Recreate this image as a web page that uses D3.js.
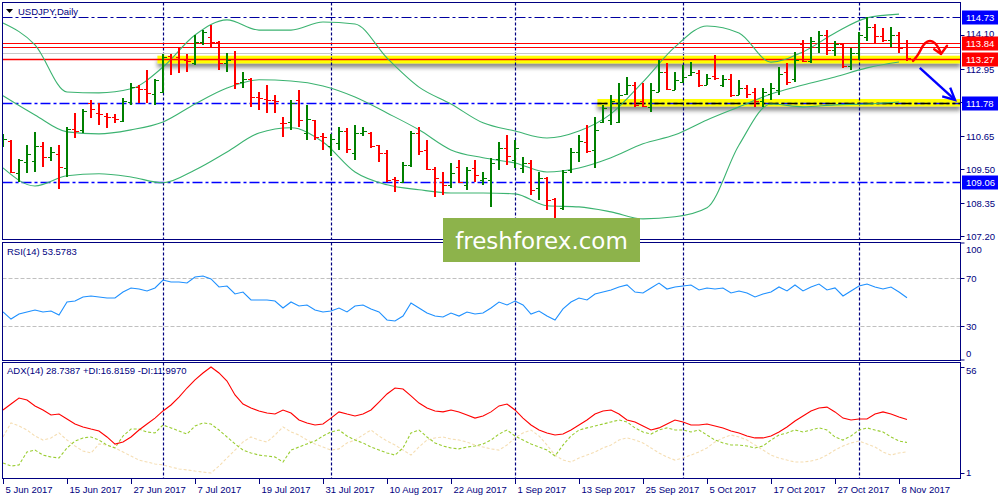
<!DOCTYPE html>
<html><head><meta charset="utf-8">
<script src="https://cdn.jsdelivr.net/npm/d3@7/dist/d3.min.js"></script>
<style>
html,body{margin:0;padding:0;background:#fff;}
svg{display:block;}
text{font-family:"Liberation Sans",Arial,sans-serif;font-size:9.5px;fill:#000080;}
</style></head><body>
<svg id="chart" width="1000" height="500"></svg>
<script>
// ---------------- DATA ----------------
const symbolTitle = "USDJPY,Daily";
const dateLabels = ["5 Jun 2017","15 Jun 2017","27 Jun 2017","7 Jul 2017","19 Jul 2017","31 Jul 2017","10 Aug 2017","22 Aug 2017","1 Sep 2017","13 Sep 2017","25 Sep 2017","5 Oct 2017","17 Oct 2017","27 Oct 2017","8 Nov 2017"];
const dateLabelBars = [0,8,16,24,32,40,48,56,64,72,80,88,96,104,112];
const monthStartBars = [20,41,64,85,107];

const open = [110.40,110.47,109.37,109.75,109.78,110.30,109.92,110.02,109.54,110.88,
110.85,111.78,111.43,111.33,111.29,111.16,111.81,112.32,112.25,112.08,
112.15,113.40,113.35,113.25,113.15,113.87,114.04,113.87,113.15,113.28,
112.50,112.60,111.98,111.91,111.88,111.09,111.12,111.88,110.74,111.19,
110.64,110.30,110.40,110.80,110.06,110.75,110.75,110.33,110.06,109.16,
109.06,109.64,110.74,110.16,109.50,109.06,108.96,109.57,108.96,109.54,
109.13,109.13,109.85,110.23,109.82,109.54,109.71,108.86,109.20,108.48,
108.17,109.47,110.09,110.43,110.16,111.12,111.19,111.12,112.08,112.39,
111.84,111.64,112.15,112.84,112.22,112.50,112.72,112.80,112.39,112.70,
112.39,112.60,112.05,112.29,112.15,111.84,112.08,112.22,112.84,112.60,
113.80,113.20,113.70,114.11,113.60,113.80,113.05,113.50,114.04,114.40,
114.08,113.95,114.10,113.84];
const high = [110.71,110.50,109.85,110.33,110.78,110.43,110.26,110.33,110.95,111.43,
111.57,111.88,111.78,111.43,111.40,111.95,112.46,112.39,112.91,112.60,
113.47,113.45,113.70,113.47,114.11,114.28,114.46,113.91,113.50,113.56,
112.84,112.63,112.15,112.39,112.05,111.29,111.88,112.22,111.71,111.19,
110.74,110.70,110.95,110.90,111.02,110.95,110.78,110.33,110.16,109.23,
109.75,110.81,110.95,110.50,109.57,109.40,109.71,109.82,109.57,109.82,
109.40,109.88,110.43,110.68,110.50,109.92,109.82,109.40,109.23,108.51,
109.47,110.23,110.68,111.02,111.30,111.71,112.05,112.46,112.67,112.50,
112.46,112.46,113.25,113.15,112.84,113.08,113.18,112.91,112.77,113.42,
112.74,112.77,112.57,112.39,112.29,112.29,112.46,113.01,113.15,113.53,
113.94,114.04,114.25,114.30,113.90,113.84,113.65,114.20,114.73,114.50,
114.35,114.40,114.20,113.94];
const low = [110.26,109.35,109.06,109.37,109.40,109.57,109.78,108.82,109.23,110.57,
110.74,111.26,111.02,110.92,111.09,111.12,111.71,111.78,111.78,111.71,
112.12,112.74,112.80,112.84,113.08,113.77,113.70,112.91,112.84,112.25,
112.29,111.64,111.53,111.43,111.43,110.60,110.85,110.95,110.50,110.50,
110.16,109.95,110.16,110.06,109.82,110.64,110.23,109.75,109.06,108.72,
109.03,109.57,109.99,109.47,108.55,108.61,108.86,109.03,108.79,109.06,
108.96,108.20,109.47,109.64,109.54,109.37,108.61,108.44,108.10,107.75,
108.10,109.37,109.75,110.06,109.54,111.09,111.02,111.09,112.05,111.64,
111.64,111.47,112.15,112.22,112.22,112.46,112.70,112.32,112.39,112.57,
112.32,111.98,112.05,111.95,111.64,111.64,111.88,112.05,112.39,112.50,
113.18,113.15,113.49,113.42,113.40,112.98,112.91,113.25,113.90,113.80,
113.87,113.70,113.50,113.22];
const close = [110.55,109.40,109.82,110.03,110.30,109.92,110.09,109.57,110.88,110.81,
111.50,111.57,111.40,111.29,111.22,111.85,112.32,112.25,112.12,112.56,
113.35,113.30,113.30,113.22,113.87,114.20,113.87,113.15,113.25,112.46,
112.60,111.98,111.95,111.88,111.84,111.07,111.78,111.19,111.22,110.61,
110.60,110.55,110.80,110.20,110.74,110.80,110.30,110.06,109.13,109.13,
109.64,110.74,110.12,109.50,109.20,108.96,109.37,109.06,109.47,109.30,
109.20,109.71,110.23,109.95,110.23,109.71,108.79,109.20,108.44,107.82,
109.40,110.09,110.47,110.12,110.85,111.60,111.84,112.05,112.39,111.71,
111.67,112.22,112.84,112.25,112.56,112.67,112.84,112.39,112.63,112.63,
112.60,112.05,112.29,112.08,111.84,112.15,112.29,112.77,112.50,113.25,
113.20,113.90,114.11,113.60,113.80,113.05,113.50,114.10,114.40,114.08,
113.95,114.10,113.65,113.32];

// Bollinger bands, read every 4th bar
const bbBars = [0,4,8,12,16,20,24,28,32,36,40,44,48,52,56,60,64,68,72,76,80,84,88,92,96,100,104,108,112];
const bbUpper = [114.52,113.77,112.15,112.12,112.26,113.01,114.11,114.63,114.28,114.28,114.56,114.49,113.32,112.32,111.74,111.09,110.81,110.57,110.81,111.40,112.50,113.70,114.42,114.18,113.18,113.53,114.18,114.70,114.83];
const bbMiddle = [112.02,111.36,110.78,110.71,110.85,111.12,111.74,112.29,112.57,112.53,112.36,111.98,111.43,110.85,110.16,109.89,109.71,109.40,109.54,109.89,110.37,110.68,111.19,111.64,112.08,112.39,112.67,112.98,113.18];
const bbLower = [109.54,108.92,109.27,109.34,109.23,109.03,109.47,110.09,110.74,110.92,110.43,109.40,108.96,108.79,108.68,108.68,108.65,108.24,108.20,108.03,107.79,107.86,108.17,110.33,111.74,111.64,111.71,111.74,111.81];

const rsi = [41.7,35.8,40,41.7,43.3,41.7,42.5,39.2,50,50.8,
54.2,55,54.2,53.3,53.3,58.3,61.7,60.8,59.2,61.7,
68.3,66.7,66.7,65.8,70.8,71.7,69.2,62.5,63.3,56.7,
58.3,51.7,51.7,51.7,50.8,45,50,46.7,47.5,43.3,
41.7,42.5,45,41.7,46.7,47.5,44.2,41.7,35,34.2,
38.3,49.2,45,40.8,38.3,37.5,40.8,38.3,41.7,40,
40.8,45,50,47.5,50.8,47.5,40,42.5,38.3,35,
44.2,50,53.3,51.7,56.7,58.3,60,62.5,64.2,58.3,
57.5,61.7,65.8,60.8,62.5,63.3,64.2,60,61.7,60.8,
61.7,57.5,59.2,57.5,54.2,56.7,58.3,62.5,59.2,64.2,
59.2,62.5,65,60,61.7,55,59.2,63.3,65,62.5,
60.8,62.5,58.3,53.5783];
const adx = [33.7,36.8,39.9,38.9,35.8,33.7,31.1,31.6,29.0,26.4,
24.9,23.8,22.8,19.7,16.0,17.1,19.7,23.3,26.4,29.5,
33.2,36.3,40.4,45.1,49.3,52.9,56.0,52.9,48.7,41.5,
36.8,34.7,33.2,32.1,31.6,33.7,32.1,28.5,26.9,25.9,
26.4,29.5,32.7,31.6,30.6,31.6,33.7,37.8,42.0,45.1,
44.6,41.0,37.3,34.7,33.2,32.7,33.7,32.7,31.1,29.5,
30.6,32.7,35.8,36.8,33.7,29.5,25.9,23.3,21.8,20.7,
21.2,23.3,25.9,28.5,31.6,33.2,33.7,31.6,28.5,27.5,
25.4,23.3,24.4,26.4,28.5,27.5,25.9,25.9,26.4,25.4,
24.4,22.8,21.8,20.2,19.2,19.2,20.2,22.3,24.9,28.0,
30.6,33.2,34.7,35.2,32.7,29.5,28.5,29.0,29.0,31.6,
32.7,31.6,30.1,28.7387];
const plusDI = [6.2,4.6,5.2,11.9,12.9,10.3,9.3,8.8,14.0,17.6,
19.2,19.7,18.1,15.5,14.0,20.2,23.8,23.8,22.3,21.8,
25.9,24.4,22.8,21.2,25.4,27.0,26.4,23.3,19.7,16.1,
12.9,11.4,10.3,9.8,9.3,6.7,12.9,14.5,16.1,17.6,
20.2,22.3,23.3,20.2,18.1,16.6,14.5,12.9,11.4,10.3,
14.0,21.8,23.3,19.7,16.6,15.0,14.0,13.5,14.5,15.0,
16.1,18.1,21.2,23.3,20.2,18.1,16.1,14.5,12.9,9.8,
15.5,20.2,23.3,24.4,25.4,26.4,27.5,28.5,27.5,24.4,
22.3,21.2,23.3,24.4,23.3,23.3,22.3,23.3,20.7,18.1,
16.6,15.5,15.5,15.0,14.0,15.0,18.1,20.7,21.8,23.3,
22.3,23.3,24.4,23.3,19.7,18.1,20.2,23.3,24.4,23.3,
22.3,19.7,17.6,16.8159];
const minusDI = [19.7,27.0,25.4,23.3,20.2,18.1,19.2,21.8,18.1,15.0,
12.4,11.4,16.1,15.5,14.0,11.9,9.8,7.7,6.7,5.7,
5.2,4.1,3.1,2.6,2.0,1.5,1.0,4.6,8.8,12.9,
17.1,19.7,18.1,17.1,20.7,24.9,22.3,20.7,18.1,16.1,
14.5,12.9,13.5,16.6,18.1,20.7,23.3,20.2,17.6,15.5,
12.9,10.3,14.5,18.1,19.2,19.7,18.6,18.1,17.1,15.5,
14.5,13.5,12.9,15.5,19.2,21.8,23.3,20.2,15.5,10.3,
7.7,6.7,8.8,10.3,11.9,14.0,15.5,18.1,19.2,18.1,
16.6,14.0,11.4,9.3,7.7,8.8,10.3,11.9,14.0,17.1,
19.2,20.7,19.7,18.1,15.5,12.9,10.3,8.8,7.7,6.7,
6.7,7.2,8.3,10.3,12.9,15.0,16.6,17.6,16.1,14.5,
11.9,10.3,11.4,11.9970];

const priceTicks = [114.10,112.95,111.80,110.65,109.50,108.35,107.20];
const priceTickLabels = ["114.10","112.95","111.80","110.65","109.50","108.35","107.20"];
const rsiTicks = [100,70,30,0];
const rsiLevels = [70,30];
const adxTicks = [56,1];
const blueLevels = [114.73,111.78,109.06];
const blueLevelLabels = ["114.73","111.78","109.06"];
const redLevels = [113.84,113.71,113.27];
const redBoxLevels = [113.84,113.27];
const redBoxLabels = ["113.84","113.27"];
const bidLevel = 113.49;
const zoneStartBar = [19.3,74.3];
const zoneLow = [113.13,111.65];
const zoneHigh = [113.40,111.91];
const zoneLine = [113.27,111.78];
// hand-drawn annotations (bar index, price)
const redArrowBar = [113.75,114.4,115.0,115.5,116.25,116.75,117.25];
const redArrowPrice = [113.22,113.42,113.77,113.91,113.91,113.77,113.49];
const redHeadBar = [116.4,117.25,118.0];
const redHeadPrice = [113.62,113.46,113.74];
const blueArrowBar = [114.6,119.0];
const blueArrowPrice = [112.98,111.88];
const blueHeadBar = [117.4,119.0,118.4];
const blueHeadPrice = [112.00,111.88,112.30];

// ---------------- LAYOUT ----------------
const NAVY = "#000080";
const XL = 2.5, XR = 960.5;
const panels = {main:[2.5,239.5], rsi:[242.5,360.5], adx:[362.5,478.5]};
const svg = d3.select("#chart");
const x = d3.scaleLinear().domain([0,119]).range([3,955]);
const y = d3.scaleLinear().domain([107.20,114.73]).range([236,17]);
const yR = d3.scaleLinear().domain([0,100]).range([362,242]);
const yA = d3.scaleLinear().domain([1,56]).range([473,367]);

const defs = svg.append("defs");
Object.entries(panels).forEach(([k,[t,b]])=>{
  defs.append("clipPath").attr("id","clip-"+k).append("rect")
    .attr("x",XL).attr("y",t).attr("width",XR-XL).attr("height",b-t);
});
const flt = defs.append("filter").attr("id","shadow").attr("x","-2%").attr("y","-60%").attr("width","104%").attr("height","300%");
flt.append("feDropShadow").attr("dx",0).attr("dy",4).attr("stdDeviation",2.2).attr("flood-color","#666").attr("flood-opacity",0.75);

svg.append("rect").attr("width",1000).attr("height",500).attr("fill","#fff");

const gMain = svg.append("g").attr("clip-path","url(#clip-main)");
const gRsi = svg.append("g").attr("clip-path","url(#clip-rsi)");
const gAdx = svg.append("g").attr("clip-path","url(#clip-adx)");

// yellow zones
gMain.selectAll("rect.zone").data(zoneStartBar).join("rect").attr("class","zone")
  .attr("x",d=>x(d)).attr("width",(d)=>XR-x(d))
  .attr("y",(d,i)=>y(zoneHigh[i])).attr("height",(d,i)=>y(zoneLow[i])-y(zoneHigh[i]))
  .attr("fill","#ffff00").attr("filter","url(#shadow)");

// month separators
[[gMain,"main"],[gRsi,"rsi"],[gAdx,"adx"]].forEach(([g,k])=>{
  g.selectAll("line.month").data(monthStartBars).join("line").attr("class","month")
    .attr("x1",d=>x(d)+0.5).attr("x2",d=>x(d)+0.5).attr("y1",panels[k][0]).attr("y2",panels[k][1])
    .attr("stroke",NAVY).attr("stroke-width",1.2).attr("stroke-dasharray","3,2");
});

// horizontal levels
const hline = (g,v,color,dash,w,x1)=>g.append("line")
  .attr("x1",x1===undefined?XL:x1).attr("x2",XR).attr("y1",Math.round(y(v))+0.5).attr("y2",Math.round(y(v))+0.5)
  .attr("stroke",color).attr("stroke-width",w).attr("stroke-dasharray",dash);
hline(gMain,bidLevel,"#c8c8c8",null,1);
redLevels.forEach(v=>hline(gMain,v,"#ff0000",null,v===zoneLine[0]?1.6:1.2));
hline(gMain,blueLevels[0],"#0000a0","10,3,3,3",1.2);
hline(gMain,blueLevels[1],"#0000ff","10,3,3,3",1.4);
hline(gMain,blueLevels[2],"#0000ff","10,3,3,3",1.4);
hline(gMain,zoneLine[1],"#000000","10,3,3,3",1.4,x(zoneStartBar[1]));

// Bollinger bands
const bbLine = d3.line().x((d,i)=>x(bbBars[i])).y(d=>y(d)).curve(d3.curveMonotoneX);
[bbUpper,bbMiddle,bbLower].forEach(s=>{
  gMain.append("path").attr("d",bbLine(s)).attr("fill","none").attr("stroke","#3cb371").attr("stroke-width",1.1);
});

// OHLC bars
const bars = gMain.append("g").attr("shape-rendering","crispEdges");
open.forEach((o,i)=>{
  const c = close[i]>=o ? "#008000" : "#ff0000";
  const xi = Math.round(x(i));
  bars.append("line").attr("x1",xi).attr("x2",xi).attr("y1",y(high[i])).attr("y2",y(low[i])).attr("stroke",c).attr("stroke-width",2);
  bars.append("line").attr("x1",xi-3).attr("x2",xi).attr("y1",Math.round(y(o))+0.5).attr("y2",Math.round(y(o))+0.5).attr("stroke",c).attr("stroke-width",1.5);
  bars.append("line").attr("x1",xi).attr("x2",xi+4).attr("y1",Math.round(y(close[i]))+0.5).attr("y2",Math.round(y(close[i]))+0.5).attr("stroke",c).attr("stroke-width",1.5);
});

// annotations
const ann = d3.line().x(d=>x(d[0])).y(d=>y(d[1]));
const redPts = redArrowBar.map((b,i)=>[b,redArrowPrice[i]]);
gMain.append("path").attr("d",d3.line().x(d=>x(d[0])).y(d=>y(d[1])).curve(d3.curveBasis)(redPts))
  .attr("fill","none").attr("stroke","#ff0000").attr("stroke-width",2.4).attr("stroke-linecap","round");
gMain.append("path").attr("d",ann(redHeadBar.map((b,i)=>[b,redHeadPrice[i]])))
  .attr("fill","none").attr("stroke","#ff0000").attr("stroke-width",2.4).attr("stroke-linejoin","round").attr("stroke-linecap","round");
gMain.append("path").attr("d",ann(blueArrowBar.map((b,i)=>[b,blueArrowPrice[i]])))
  .attr("fill","none").attr("stroke","#0000ff").attr("stroke-width",2.4);
gMain.append("path").attr("d",ann(blueHeadBar.map((b,i)=>[b,blueHeadPrice[i]])))
  .attr("fill","none").attr("stroke","#0000ff").attr("stroke-width",2.4).attr("stroke-linejoin","miter");

// RSI
rsiLevels.forEach(v=>gRsi.append("line").attr("x1",XL).attr("x2",XR).attr("y1",Math.round(yR(v))+0.5).attr("y2",Math.round(yR(v))+0.5)
  .attr("stroke","#c0c0c0").attr("stroke-dasharray","4,2"));
gRsi.append("path").attr("d",d3.line().x((d,i)=>x(i)).y(d=>yR(d))(rsi)).attr("fill","none").attr("stroke","#1e90ff").attr("stroke-width",1.1);

// ADX
const aLine = d3.line().x((d,i)=>x(i)).y(d=>yA(d));
gAdx.append("path").attr("d",aLine(minusDI)).attr("fill","none").attr("stroke","#f5deb3").attr("stroke-width",1.1).attr("stroke-dasharray","3,2");
gAdx.append("path").attr("d",aLine(plusDI)).attr("fill","none").attr("stroke","#9acd32").attr("stroke-width",1.1).attr("stroke-dasharray","3,2");
gAdx.append("path").attr("d",aLine(adx)).attr("fill","none").attr("stroke","#ff0000").attr("stroke-width",1.1);

// frames
Object.values(panels).forEach(([t,b])=>{
  svg.append("rect").attr("x",XL).attr("y",t).attr("width",XR-XL).attr("height",b-t)
    .attr("fill","none").attr("stroke",NAVY).attr("stroke-width",1).attr("shape-rendering","crispEdges");
});

// right axis: price
const axisG = svg.append("g");
priceTicks.forEach((v,i)=>{
  const yy = Math.round(y(v))+0.5;
  axisG.append("line").attr("x1",XR).attr("x2",XR+4).attr("y1",yy).attr("y2",yy).attr("stroke",NAVY);
  axisG.append("text").attr("x",966).attr("y",i===0 ? yy+1.5 : yy+3.5).text(priceTickLabels[i]);
});
const box = (v,label,color)=>{
  const yy = Math.round(y(v))+0.5;
  axisG.append("rect").attr("x",962).attr("y",yy-7).attr("width",36).attr("height",14).attr("fill",color);
  axisG.append("text").attr("x",966).attr("y",yy+3.5).attr("fill","#fff").style("fill","#fff").text(label);
};
blueLevels.forEach((v,i)=>box(v,blueLevelLabels[i],"#0000ff"));
redBoxLevels.forEach((v,i)=>box(v,redBoxLabels[i],"#ff0000"));

// right axis: RSI
rsiTicks.forEach(v=>{
  const yy = Math.round(yR(v))+0.5;
  axisG.append("line").attr("x1",XR).attr("x2",XR+4).attr("y1",Math.min(Math.max(yy,243),360)).attr("y2",Math.min(Math.max(yy,243),360)).attr("stroke",NAVY);
  const ty = v===100 ? 253 : v===0 ? 357 : yy+3.5;
  axisG.append("text").attr("x",966).attr("y",ty).text(String(v));
});
// right axis: ADX
adxTicks.forEach(v=>{
  const yy = Math.round(yA(v))+0.5;
  axisG.append("line").attr("x1",XR).attr("x2",XR+4).attr("y1",yy).attr("y2",yy).attr("stroke",NAVY);
  axisG.append("text").attr("x",966).attr("y",v===56?374:476).text(String(v));
});

// x axis
dateLabelBars.forEach((b,i)=>{
  const xx = Math.round(x(b))+0.5;
  axisG.append("line").attr("x1",xx).attr("x2",xx).attr("y1",478.5).attr("y2",484).attr("stroke",NAVY);
  axisG.append("text").attr("x",xx+2).attr("y",493).text(dateLabels[i]);
});

// panel titles
svg.append("path").attr("d","M6,9 L13,9 L9.5,13 Z").attr("fill","#000");
svg.append("text").attr("x",18).attr("y",15).text(symbolTitle);
svg.append("text").attr("x",7).attr("y",255).text("RSI(14) " + rsi[rsi.length-1].toFixed(4));
svg.append("text").attr("x",7).attr("y",374).text("ADX(14) " + adx[adx.length-1].toFixed(4) + " +DI:" + plusDI[plusDI.length-1].toFixed(4) + " -DI:" + minusDI[minusDI.length-1].toFixed(4));

// watermark
svg.append("rect").attr("x",443).attr("y",218).attr("width",197).attr("height",44).attr("fill","#8db34b");
svg.append("text").attr("x",541.5).attr("y",249).attr("text-anchor","middle")
  .style("font-family","'DejaVu Sans',Verdana,sans-serif").style("font-size","23px").style("fill","#fff").text("freshforex.com");
</script></body></html>
